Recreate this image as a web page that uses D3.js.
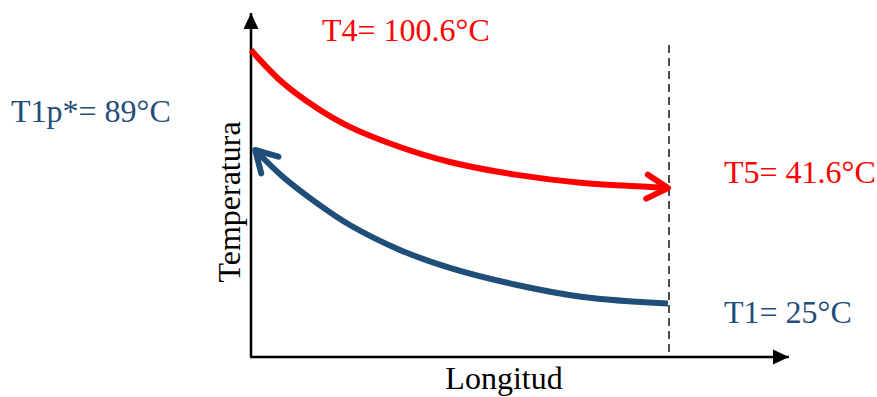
<!DOCTYPE html>
<html>
<head>
<meta charset="utf-8">
<script src="https://cdn.jsdelivr.net/npm/d3@7"></script>
<style>
  body { margin: 0; background: #fff; }
  text { font-family: "Liberation Serif", "Times New Roman", serif; }
</style>
</head>
<body>
<div id="chart"></div>
<script>
// data: hot stream (T4 -> T5) and cold stream (T1 -> T1p*)
var hotX = [0, 7.7, 15.8, 23.7, 35.7, 47.7, 63.8, 79.6, 95.7, 100];
var hotY = [102.3, 91.3, 83, 76.7, 70, 65, 60.7, 58, 56.7, 56.3];
var coldX = [1, 7.7, 15.8, 23.7, 35.7, 47.7, 63.8, 79.6, 100];
var coldY = [69, 60, 51.3, 44, 35.7, 29.7, 24, 20, 17.8];
var labels = ["T4= 100.6°C", "T1p*= 89°C", "T5= 41.6°C", "T1= 25°C"];

var svgWidth = 877;
var svgHeight = 397;
var red = "#ff0000";
var blue = "#1f4e79";

var svg = d3.select("#chart")
  .append("svg")
  .attr("width", svgWidth)
  .attr("height", svgHeight);

var x = d3.scaleLinear().domain([0, 100]).range([251, 668]);
var y = d3.scaleLinear().domain([0, 115]).range([357, 12]);
var xEnd = 129;

var defs = svg.append("defs");
defs.append("marker")
  .attr("id", "axisArrow")
  .attr("markerUnits", "userSpaceOnUse")
  .attr("viewBox", "-16 -8 16 16")
  .attr("refX", 0).attr("refY", 0)
  .attr("markerWidth", 16).attr("markerHeight", 16)
  .attr("orient", "auto")
  .append("path")
  .attr("d", "M-16,-7.5L0,0L-16,7.5Z")
  .attr("fill", "#000");

function chevron(id, color) {
  defs.append("marker")
    .attr("id", id)
    .attr("markerUnits", "userSpaceOnUse")
    .attr("viewBox", "-30 -18 36 36")
    .attr("refX", 0).attr("refY", 0)
    .attr("markerWidth", 36).attr("markerHeight", 36)
    .attr("orient", "auto-start-reverse")
    .append("path")
    .attr("d", "M-21,-12L0,0L-21,12")
    .attr("fill", "none")
    .attr("stroke", color)
    .attr("stroke-width", 6)
    .attr("stroke-linecap", "round")
    .attr("stroke-linejoin", "round");
}
chevron("redHead", red);
chevron("blueHead", blue);

// axes
svg.append("line")
  .attr("x1", x(0)).attr("y1", y(0))
  .attr("x2", x(0)).attr("y2", y(115) + 1)
  .attr("stroke", "#000").attr("stroke-width", 2.5)
  .attr("marker-end", "url(#axisArrow)");
svg.append("line")
  .attr("x1", x(0) - 1).attr("y1", y(0))
  .attr("x2", x(xEnd)).attr("y2", y(0))
  .attr("stroke", "#000").attr("stroke-width", 2.5)
  .attr("marker-end", "url(#axisArrow)");

// dashed limit line
svg.append("line")
  .attr("x1", x(100) + 1).attr("y1", 45)
  .attr("x2", x(100) + 1).attr("y2", y(0))
  .attr("stroke", "#222").attr("stroke-width", 1.6)
  .attr("stroke-dasharray", "8,5");

var line = d3.line()
  .x(d => x(d[0]))
  .y(d => y(d[1]))
  .curve(d3.curveCatmullRom.alpha(0.5));

svg.append("path")
  .datum(d3.zip(hotX, hotY))
  .attr("d", line)
  .attr("fill", "none")
  .attr("stroke", red)
  .attr("stroke-width", 6)
  .attr("marker-end", "url(#redHead)");

svg.append("path")
  .datum(d3.zip(coldX, coldY))
  .attr("d", line)
  .attr("fill", "none")
  .attr("stroke", blue)
  .attr("stroke-width", 6)
  .attr("marker-start", "url(#blueHead)");

// annotations
var fs = 32;
svg.append("text").attr("x", 322).attr("y", 41)
  .attr("font-size", fs).attr("fill", red).text(labels[0]);
svg.append("text").attr("x", 11).attr("y", 122)
  .attr("font-size", fs).attr("fill", blue).text(labels[1]);
svg.append("text").attr("x", 724).attr("y", 183)
  .attr("font-size", fs).attr("fill", red).text(labels[2]);
svg.append("text").attr("x", 724).attr("y", 323)
  .attr("font-size", fs).attr("fill", blue).text(labels[3]);

// axis titles
svg.append("text")
  .attr("x", 504).attr("y", 389)
  .attr("text-anchor", "middle")
  .attr("font-size", fs)
  .text("Longitud");
svg.append("text")
  .attr("transform", "translate(240, 202) rotate(-90)")
  .attr("text-anchor", "middle")
  .attr("font-size", fs)
  .text("Temperatura");
</script>
</body>
</html>
